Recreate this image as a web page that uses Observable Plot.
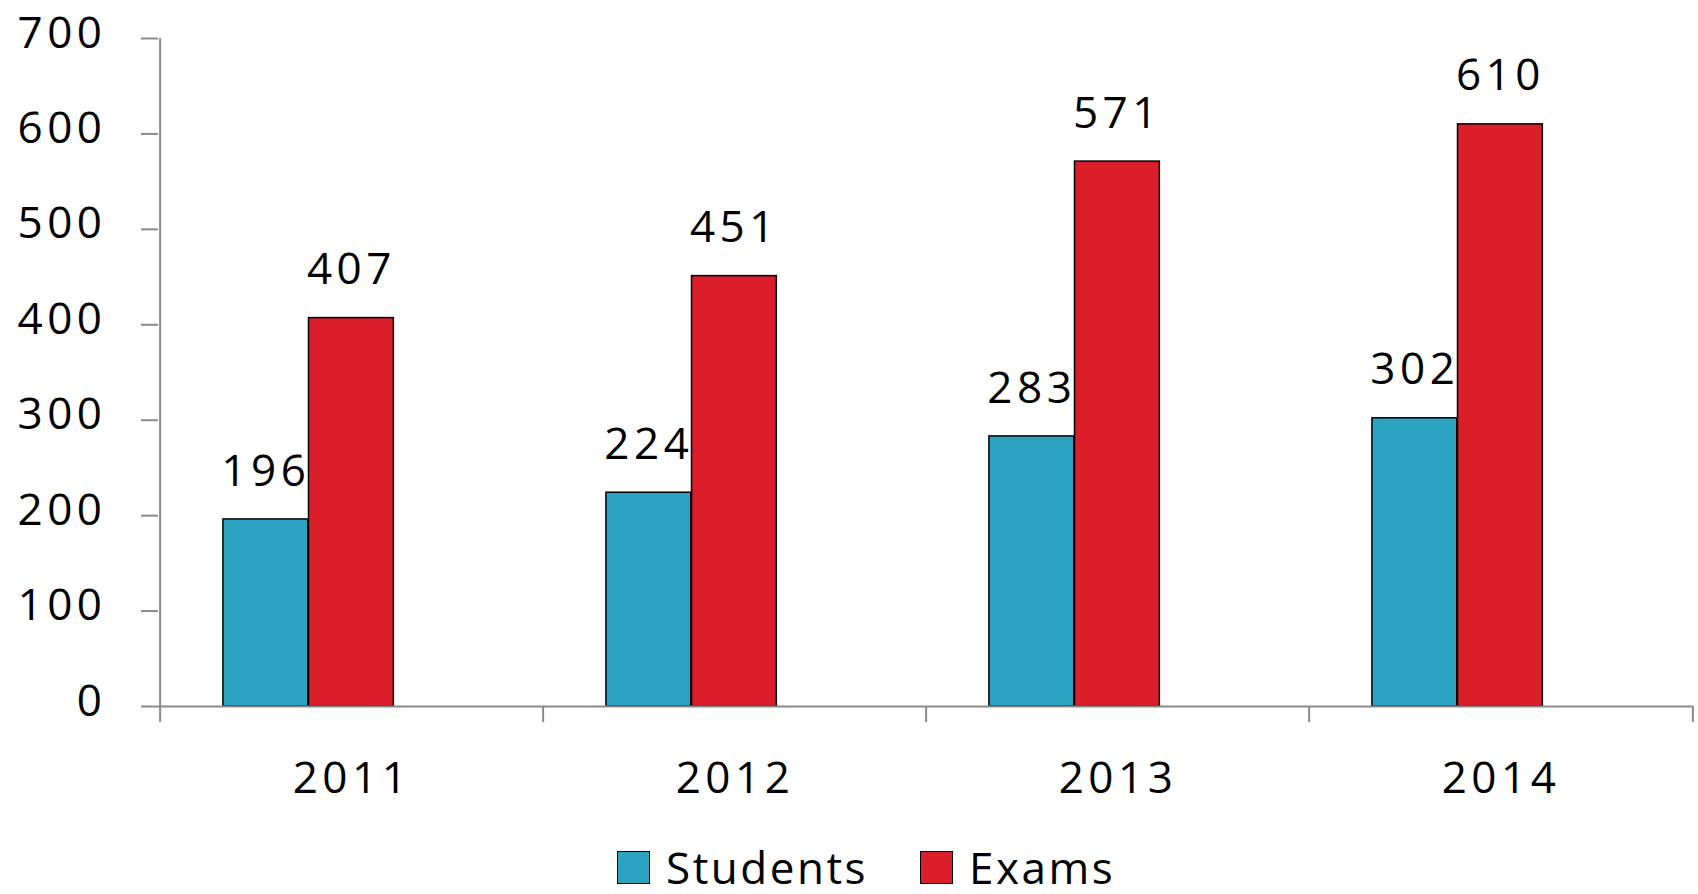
<!DOCTYPE html>
<html>
<head>
<meta charset="utf-8">
<script src="https://cdn.jsdelivr.net/npm/d3@7"></script>
<script src="https://cdn.jsdelivr.net/npm/@observablehq/plot@0.6"></script>
<style>
  html, body { margin: 0; padding: 0; background: #fff; }
  body { width: 1698px; height: 894px; position: relative; overflow: hidden; font-family: "Open Sans", sans-serif; }
  #legend { position: absolute; left: 617px; top: 851px; display: flex; align-items: center; font-size: 44px; letter-spacing: 2.5px; color: #000; height: 33px; }
  #legend .sw { width: 33px; height: 33px; border: 1.5px solid #000; box-sizing: border-box; display: inline-block; margin-right: 16px; }
  #legend .item { display: flex; align-items: center; margin-right: 52px; height: 33px; }
  #legend .lbl { display: inline-block; height: 33px; line-height: 33px; overflow: visible; }
</style>
</head>
<body>
<div id="chart"></div>
<div id="legend"></div>
<script>
const years = ["2011", "2012", "2013", "2014"];
const students = [196, 224, 283, 302];
const exams = [407, 451, 571, 610];
const yTicks = [0, 100, 200, 300, 400, 500, 600, 700];
const seriesNames = ["Students", "Exams"];
const seriesColors = ["#2CA3C0", "#DA1F2A"];

const W = 1698, H = 830, ML = 158, MR = 5, MT = 38, MB = 124;
const bw = (W - ML - MR) / years.length;
const barW = bw * 0.223;
const groupLeft = bw * 0.164; // gap between band start and first bar
const tickLen = 17;

const dStudents = years.map((y, i) => ({year: y, value: students[i]}));
const dExams = years.map((y, i) => ({year: y, value: exams[i]}));

const axisColor = "#8a8a8a";
const ls = "4.5px";

const plot = Plot.plot({
  width: W,
  height: H,
  marginLeft: ML,
  marginRight: MR,
  marginTop: MT,
  marginBottom: MB,
  style: {fontFamily: "'Open Sans', sans-serif", fontSize: "44px", letterSpacing: ls, color: "#000", background: "#fff"},
  x: {type: "band", domain: years, padding: 0, axis: null},
  y: {domain: [0, 700], axis: null},
  marks: [
    Plot.barY(dStudents, {x: "year", y: "value", fill: seriesColors[0], stroke: "#000", strokeWidth: 1.5,
      insetLeft: groupLeft, insetRight: bw - groupLeft - barW}),
    Plot.barY(dExams, {x: "year", y: "value", fill: seriesColors[1], stroke: "#000", strokeWidth: 1.5,
      insetLeft: groupLeft + barW, insetRight: bw - groupLeft - 2 * barW}),
    Plot.ruleY([0], {stroke: axisColor, strokeWidth: 2}),
    // y-axis tick marks
    Plot.ruleY(yTicks, {y: d => d, insetLeft: -tickLen, insetRight: W - ML - MR, stroke: axisColor, strokeWidth: 2}),
    // y-axis line
    Plot.ruleX([years[0]], {x: d => d, y1: 0, y2: 700, dx: -bw / 2, stroke: axisColor, strokeWidth: 2}),
    // category boundary ticks
    Plot.ruleX(years, {x: d => d, y1: 0, y2: 0, insetBottom: -16, dx: -bw / 2, stroke: axisColor, strokeWidth: 2}),
    Plot.ruleX([years[years.length - 1]], {x: d => d, y1: 0, y2: 0, insetBottom: -16, dx: bw / 2, stroke: axisColor, strokeWidth: 2}),
    Plot.axisY({ticks: yTicks, tickSize: 0, tickPadding: 52, tickFormat: d => String(d), label: null, fontSize: 44, dy: -5}),
    Plot.axisX({tickSize: 0, tickPadding: 55, label: null, fontSize: 44}),
    Plot.text(dStudents, {x: "year", y: "value", text: d => String(d.value), dx: groupLeft + barW / 2 - bw / 2, dy: -48, fontSize: 44, fill: "#000", textAnchor: "middle", lineAnchor: "middle"}),
    Plot.text(dExams, {x: "year", y: "value", text: d => String(d.value), dx: groupLeft + 1.5 * barW - bw / 2, dy: -48, fontSize: 44, fill: "#000", textAnchor: "middle", lineAnchor: "middle"})
  ]
});
document.getElementById("chart").appendChild(plot);

const legend = document.getElementById("legend");
seriesNames.forEach((name, i) => {
  const item = document.createElement("div");
  item.className = "item";
  const sw = document.createElement("span");
  sw.className = "sw";
  sw.style.background = seriesColors[i];
  const label = document.createElement("span");
  label.className = "lbl";
  label.textContent = name;
  item.appendChild(sw);
  item.appendChild(label);
  legend.appendChild(item);
});
</script>
</body>
</html>
